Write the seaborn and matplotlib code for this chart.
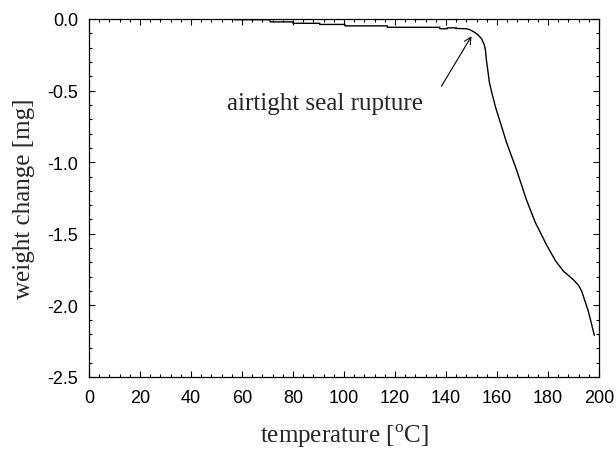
import numpy as np
import pandas as pd
import matplotlib
matplotlib.use("Agg")
import matplotlib.pyplot as plt
import seaborn as sns
from matplotlib.ticker import MultipleLocator

sns.set_theme(style="ticks")
plt.rcParams['font.family'] = ['Liberation Sans', 'DejaVu Sans']
plt.rcParams['mathtext.fontset'] = 'custom'
plt.rcParams['mathtext.rm'] = 'Liberation Serif'

# TGA curve (temperature in C, weight change in mg)
temperature = [57.0, 71.0, 71.0, 80.0, 80.0, 90.5, 90.5, 100.4, 100.4, 117.0, 117.0,
               137.6, 137.6, 140.5, 140.5, 144.0, 144.0, 148.0, 149.4, 151.4, 152.5,
               154.0, 155.0, 155.5, 155.8, 156.4, 157.0, 157.9, 159.5, 163.7, 167.6,
               171.5, 175.0, 179.5, 183.0, 186.0, 189.9, 192.0, 193.2, 195.8, 198.2]
weight_change = [-0.005, -0.005, -0.02, -0.02, -0.03, -0.03, -0.038, -0.038, -0.048, -0.048, -0.058,
                 -0.058, -0.068, -0.068, -0.062, -0.062, -0.066, -0.068, -0.075, -0.095, -0.11,
                 -0.139, -0.18, -0.22, -0.28, -0.36, -0.44, -0.51, -0.62, -0.86, -1.05,
                 -1.26, -1.42, -1.58, -1.69, -1.76, -1.82, -1.86, -1.90, -2.04, -2.21]

df = pd.DataFrame({"temperature": temperature, "weight": weight_change})

serif = ['Liberation Serif', 'DejaVu Serif']

fig = plt.figure(figsize=(6.16, 4.52), dpi=100)
ax = fig.add_axes([89 / 616, 74 / 452, 510 / 616, 358 / 452])

sns.lineplot(data=df, x="temperature", y="weight", color="black", linewidth=1.0,
             sort=False, estimator=None, ax=ax)

# annotation: label text plus a separate arrow
ax.text(54.0, -0.628, "airtight seal rupture", fontsize=18, family=serif,
        ha="left", va="baseline")
ax.annotate("", xy=(150.0, -0.12), xytext=(138.2, -0.47),
            arrowprops=dict(arrowstyle="->", color="black", lw=0.8,
                            shrinkA=0, shrinkB=0))

ax.set_xlim(0, 200)
ax.set_ylim(-2.5, 0.0)
ax.xaxis.set_major_locator(MultipleLocator(20))
ax.xaxis.set_minor_locator(MultipleLocator(4))
ax.yaxis.set_major_locator(MultipleLocator(0.5))
ax.yaxis.set_minor_locator(MultipleLocator(0.1))
ax.yaxis.set_major_formatter(matplotlib.ticker.FormatStrFormatter("%.1f"))

ax.tick_params(which="both", direction="in", top=True, right=True, colors="black",
               labelsize=13)
ax.tick_params(which="major", length=4, width=0.8)
ax.tick_params(which="minor", length=2, width=0.8)
ax.tick_params(axis="x", pad=9)
ax.tick_params(axis="y", pad=8)
for s in ax.spines.values():
    s.set_color("black")
    s.set_linewidth(0.9)

ax.set_xlabel(r"temperature [$^{\rm o}$C]", fontsize=18, family=serif, labelpad=11)
ax.set_ylabel("weight change [mg]", fontsize=18, family=serif, labelpad=9)

fig.savefig("out.png", dpi=100)
